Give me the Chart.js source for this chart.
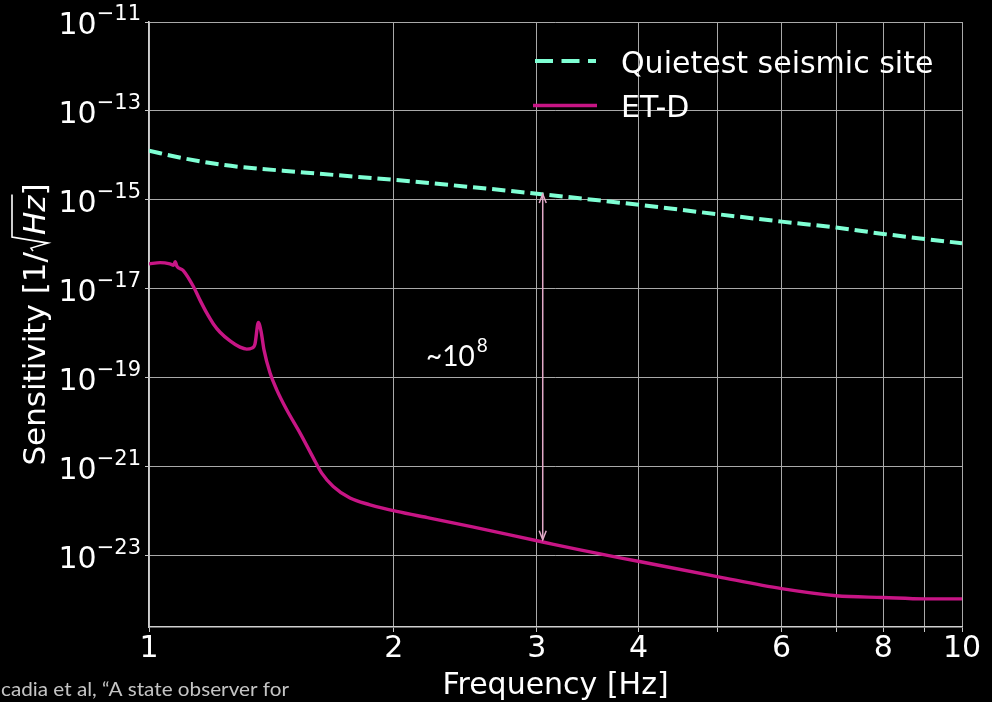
<!DOCTYPE html>
<html>
<head>
<meta charset="utf-8">
<script src="https://cdn.jsdelivr.net/npm/chart.js@4.4.1/dist/chart.umd.min.js"></script>
<style>
  html, body { margin: 0; padding: 0; background: #000; }
</style>
</head>
<body>
<canvas id="sens" width="992" height="702"></canvas>
<script>
// Seismic noise floor at the quietest site, frequency [Hz] vs ASD [1/sqrt(Hz)]
const quietFreq = [1, 1.1, 1.233, 1.564, 2.007, 2.503, 3.02, 4.01, 5.0, 6.0, 7.0, 8.0, 9.05, 10];
const quietSens = [1.28e-14, 8.7e-15, 6.12e-15, 4.10e-15, 2.81e-15, 1.93e-15, 1.36e-15,
                   7.73e-16, 4.78e-16, 3.25e-16, 2.39e-16, 1.72e-16, 1.31e-16, 1.06e-16];

// ET-D design sensitivity
const etdFreq = [1, 1.032, 1.061, 1.072, 1.077, 1.082, 1.102, 1.134, 1.155, 1.178, 1.200,
                 1.223, 1.258, 1.294, 1.319, 1.338, 1.350, 1.363, 1.374, 1.385, 1.409,
                 1.436, 1.477, 1.534, 1.593, 1.631, 1.685, 1.767, 1.870, 2.017, 2.215,
                 2.5, 3.05, 3.39, 4.01, 5.0, 6.0, 7.0, 8.0, 9.0, 10];
const etdSens = [3.65e-17, 3.89e-17, 3.63e-17, 3.39e-17, 4.07e-17, 3.24e-17, 2.58e-17,
                 1.13e-17, 5.66e-18, 2.84e-18, 1.63e-18, 1.06e-18, 6.78e-19, 4.90e-19,
                 4.42e-19, 4.65e-19, 5.71e-19, 1.75e-18, 1.07e-18, 4.26e-19, 1.28e-19,
                 5.37e-20, 1.91e-20, 5.71e-21, 1.57e-21, 7.21e-22, 3.61e-22, 1.98e-22,
                 1.40e-22, 9.91e-23, 7.03e-23, 4.47e-23, 2.04e-23, 1.35e-23, 7.41e-24,
                 3.39e-24, 1.82e-24, 1.26e-24, 1.15e-24, 1.07e-24, 1.07e-24];

// axes
const xGridFreq = [1, 2, 3, 4, 5, 6, 7, 8, 9, 10];
const xLabelFreq = [1, 2, 3, 4, 6, 8, 10];
const yTickPowers = [-11, -13, -15, -17, -19, -21, -23];
const yMin = 2.5e-25, yMax = 1e-11;

// gap marker between the two curves
const gapFreq = 3.05;
const gapEnds = [1.36e-15, 2.29e-23];
const gapLabel = ['~10', '8'];

const SANS = '"DejaVu Sans", sans-serif';

function arrowHead(ctx, x, y, dir) {
  ctx.beginPath();
  ctx.moveTo(x - 3.5, y + dir * 9);
  ctx.lineTo(x, y);
  ctx.lineTo(x + 3.5, y + dir * 9);
  ctx.stroke();
}

const decorations = {
  id: 'decorations',
  beforeDraw(chart) {
    const ctx = chart.ctx;
    ctx.save();
    ctx.fillStyle = '#000';
    ctx.fillRect(0, 0, chart.width, chart.height);
    ctx.restore();
  },
  afterDatasetsDraw(chart) {
    const ctx = chart.ctx;
    const xs = chart.scales.x, ys = chart.scales.y;
    const x = xs.getPixelForValue(gapFreq);
    const yTop = ys.getPixelForValue(gapEnds[0]);
    const yBot = ys.getPixelForValue(gapEnds[1]);
    ctx.save();
    ctx.strokeStyle = '#e2a9c7';
    ctx.lineWidth = 1.5;
    ctx.beginPath();
    ctx.moveTo(x, yTop);
    ctx.lineTo(x, yBot);
    ctx.stroke();
    arrowHead(ctx, x, yTop, 1);
    arrowHead(ctx, x, yBot, -1);

    ctx.fillStyle = '#fff';
    ctx.textBaseline = 'alphabetic';
    ctx.font = '28px Lato, sans-serif';
    ctx.fillText(gapLabel[0], 426, 366);
    const w = ctx.measureText(gapLabel[0]).width;
    ctx.font = '19px Lato, sans-serif';
    ctx.fillText(gapLabel[1], 426 + w + 2, 352);
    ctx.restore();
  },
  afterDraw(chart) {
    const ctx = chart.ctx;
    const ys = chart.scales.y;
    const area = chart.chartArea;
    ctx.save();
    ctx.fillStyle = '#fff';
    ctx.textBaseline = 'alphabetic';

    // y tick labels 10^n
    yTickPowers.forEach(p => {
      const y = ys.getPixelForValue(Math.pow(10, p));
      const sup = '\u2212' + Math.abs(p);
      ctx.font = '21px ' + SANS;
      ctx.textAlign = 'right';
      ctx.fillText(sup, 141, y - 2);
      const sw = ctx.measureText(sup).width;
      ctx.font = '30px ' + SANS;
      ctx.fillText('10', 141 - sw, y + 12);
    });

    // x axis title
    ctx.textAlign = 'center';
    ctx.font = '30px ' + SANS;
    ctx.fillText('Frequency [Hz]', (area.left + area.right) / 2, 694);

    // y axis title with radical
    ctx.save();
    ctx.translate(45, (area.top + area.bottom) / 2);
    ctx.rotate(-Math.PI / 2);
    ctx.textAlign = 'left';
    const fN = '31px ' + SANS, fI = 'italic 31px ' + SANS;
    ctx.font = fN;
    const w1 = ctx.measureText('Sensitivity [1/').width;
    const wr = 17;
    ctx.font = fI;
    const w2 = ctx.measureText('Hz').width;
    ctx.font = fN;
    const w3 = ctx.measureText(']').width;
    const x0 = -(w1 + wr + w2 + w3) / 2;
    ctx.fillText('Sensitivity [1/', x0, 0);
    const r = x0 + w1;
    ctx.strokeStyle = '#fff';
    ctx.lineWidth = 1.6;
    ctx.beginPath();
    ctx.moveTo(r + 1, -12);
    ctx.lineTo(r + 4, -14);
    ctx.lineTo(r + 9, 3);
    ctx.lineTo(r + 15, -33);
    ctx.lineTo(r + wr + w2 + 1, -33);
    ctx.stroke();
    ctx.font = fI;
    ctx.fillText('Hz', r + wr, 0);
    ctx.font = fN;
    ctx.fillText(']', r + wr + w2, 0);
    ctx.restore();

    // legend
    ctx.lineCap = 'butt';
    ctx.strokeStyle = chart.data.datasets[0].borderColor;
    ctx.lineWidth = 4;
    ctx.setLineDash([18, 8.5]);
    ctx.beginPath();
    ctx.moveTo(535, 61);
    ctx.lineTo(596, 61);
    ctx.stroke();
    ctx.setLineDash([]);
    ctx.strokeStyle = chart.data.datasets[1].borderColor;
    ctx.lineWidth = 3.5;
    ctx.beginPath();
    ctx.moveTo(533, 105.5);
    ctx.lineTo(597, 105.5);
    ctx.stroke();
    ctx.font = '30px ' + SANS;
    ctx.textAlign = 'left';
    ctx.fillStyle = '#fff';
    ctx.fillText(chart.data.datasets[0].label, 621, 72.5);
    ctx.fillText(chart.data.datasets[1].label, 621, 117);

    // source note
    ctx.fillStyle = '#c4c4c4';
    ctx.font = '20px Lato, sans-serif';
    const note = 'cadia et al, \u201cA state observer for';
    const nw = ctx.measureText(note).width;
    ctx.save();
    ctx.translate(1, 696);
    ctx.scale(288 / nw, 1);
    ctx.fillText(note, 0, 0);
    ctx.restore();

    ctx.restore();
  }
};

new Chart('sens', {
  type: 'line',
  data: {
    datasets: [
      {
        label: 'Quietest seismic site',
        data: quietFreq.map((f, i) => ({ x: f, y: quietSens[i] })),
        borderColor: '#7fffd4',
        borderWidth: 4,
        borderDash: [13.3, 5.9],
        pointRadius: 0,
        cubicInterpolationMode: 'monotone'
      },
      {
        label: 'ET-D',
        data: etdFreq.map((f, i) => ({ x: f, y: etdSens[i] })),
        borderColor: '#c71585',
        borderWidth: 3.4,
        pointRadius: 0,
        cubicInterpolationMode: 'monotone'
      }
    ]
  },
  options: {
    responsive: false,
    animation: false,
    devicePixelRatio: 1,
    layout: { padding: { top: 22, right: 30, left: 0, bottom: 0 } },
    plugins: {
      legend: { display: false },
      tooltip: { enabled: false }
    },
    scales: {
      x: {
        type: 'logarithmic',
        min: 1,
        max: 10,
        afterBuildTicks: s => { s.ticks = xGridFreq.map(v => ({ value: v })); },
        afterFit: s => { s.height = 75; },
        ticks: {
          autoSkip: false,
          maxRotation: 0,
          padding: -1,
          color: '#fff',
          font: { family: 'DejaVu Sans', size: 30 },
          callback: v => xLabelFreq.includes(v) ? String(v) : ''
        },
        grid: { color: '#a9a9a9', lineWidth: 1, tickLength: 5, tickColor: '#c8c8c8' },
        border: { color: '#cfcfcf', width: 1.6 }
      },
      y: {
        type: 'logarithmic',
        min: yMin,
        max: yMax,
        afterBuildTicks: s => { s.ticks = yTickPowers.map(p => ({ value: Math.pow(10, p) })); },
        afterFit: s => { s.width = 149; },
        ticks: { display: false },
        grid: { color: '#a9a9a9', lineWidth: 1, tickLength: 4, tickColor: '#c8c8c8' },
        border: { color: '#cfcfcf', width: 1.6 }
      }
    }
  },
  plugins: [decorations]
});
</script>
</body>
</html>
